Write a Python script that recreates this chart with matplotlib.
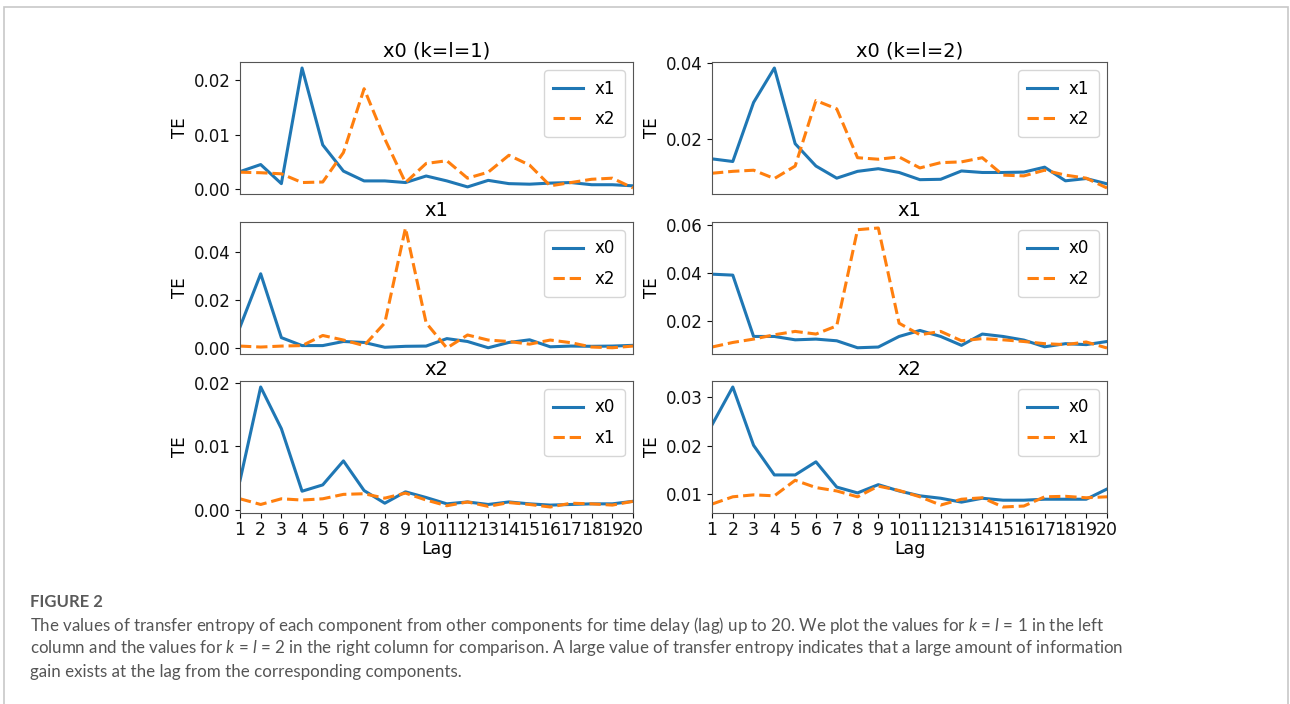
import matplotlib
matplotlib.use("Agg")
import matplotlib.pyplot as plt
from matplotlib.patches import Rectangle
from matplotlib.ticker import MultipleLocator

plt.rcParams['mathtext.fontset'] = 'custom'
plt.rcParams['mathtext.rm'] = 'Lato'
plt.rcParams['mathtext.it'] = 'Lato:italic'

lags = list(range(1, 21))
tick_labels = [str(i) for i in lags]

# k = l = 1 (left column)
x0_from_x1_k1 = [0.0032, 0.0045, 0.0010, 0.0222, 0.0081, 0.0033, 0.0015, 0.0015, 0.0012, 0.0024,
                 0.0015, 0.0004, 0.0016, 0.0010, 0.0009, 0.0011, 0.0012, 0.0008, 0.0008, 0.0006]
x0_from_x2_k1 = [0.0031, 0.0030, 0.0028, 0.0012, 0.0013, 0.0067, 0.0184, 0.0092, 0.0012, 0.0047,
                 0.0052, 0.0020, 0.0031, 0.0062, 0.0044, 0.0006, 0.0012, 0.0018, 0.0020, 0.0002]
x1_from_x0_k1 = [0.0087, 0.0308, 0.0043, 0.0010, 0.0010, 0.0027, 0.0023, 0.0003, 0.0007, 0.0008,
                 0.0039, 0.0027, 0.0001, 0.0023, 0.0034, 0.0005, 0.0008, 0.0007, 0.0008, 0.0011]
x1_from_x2_k1 = [0.0008, 0.0004, 0.0008, 0.0010, 0.0052, 0.0033, 0.0010, 0.0104, 0.0498, 0.0104,
                 0.0000, 0.0054, 0.0033, 0.0027, 0.0016, 0.0033, 0.0022, 0.0004, 0.0001, 0.0008]
x2_from_x0_k1 = [0.0046, 0.0194, 0.0128, 0.0029, 0.0039, 0.0077, 0.0030, 0.0010, 0.0028, 0.0019,
                 0.0009, 0.0012, 0.0008, 0.0012, 0.0009, 0.0007, 0.0008, 0.0009, 0.0009, 0.0013]
x2_from_x1_k1 = [0.0017, 0.0008, 0.0017, 0.0015, 0.0017, 0.0024, 0.0025, 0.0018, 0.0026, 0.0015,
                 0.0006, 0.0012, 0.0005, 0.0011, 0.0008, 0.0004, 0.0010, 0.0009, 0.0007, 0.0013]

# k = l = 2 (right column)
x0_from_x1_k2 = [0.0147, 0.0140, 0.0296, 0.0387, 0.0187, 0.0128, 0.0096, 0.0114, 0.0121, 0.0111,
                 0.0092, 0.0093, 0.0115, 0.0111, 0.0111, 0.0112, 0.0125, 0.0089, 0.0095, 0.0081]
x0_from_x2_k2 = [0.0109, 0.0114, 0.0117, 0.0095, 0.0128, 0.0301, 0.0279, 0.0150, 0.0146, 0.0152,
                 0.0123, 0.0137, 0.0139, 0.0150, 0.0104, 0.0102, 0.0117, 0.0104, 0.0096, 0.0070]
x1_from_x0_k2 = [0.0394, 0.0390, 0.0135, 0.0135, 0.0121, 0.0124, 0.0117, 0.0088, 0.0091, 0.0135,
                 0.0160, 0.0135, 0.0098, 0.0145, 0.0135, 0.0120, 0.0092, 0.0105, 0.0101, 0.0114]
x1_from_x2_k2 = [0.0091, 0.0110, 0.0124, 0.0142, 0.0156, 0.0145, 0.0179, 0.0579, 0.0586, 0.0190,
                 0.0142, 0.0156, 0.0117, 0.0126, 0.0121, 0.0114, 0.0105, 0.0101, 0.0112, 0.0087]
x2_from_x0_k2 = [0.0243, 0.0321, 0.0201, 0.0140, 0.0140, 0.0167, 0.0115, 0.0103, 0.0120, 0.0107,
                 0.0097, 0.0092, 0.0084, 0.0092, 0.0088, 0.0088, 0.0090, 0.0090, 0.0090, 0.0111]
x2_from_x1_k2 = [0.0080, 0.0095, 0.0099, 0.0097, 0.0129, 0.0114, 0.0107, 0.0095, 0.0117, 0.0108,
                 0.0095, 0.0078, 0.0090, 0.0093, 0.0074, 0.0076, 0.0095, 0.0096, 0.0093, 0.0095]

titles = [["x0 (k=l=1)", "x0 (k=l=2)"], ["x1", "x1"], ["x2", "x2"]]
series = [
    [(x0_from_x1_k1, x0_from_x2_k1, "x1", "x2"), (x0_from_x1_k2, x0_from_x2_k2, "x1", "x2")],
    [(x1_from_x0_k1, x1_from_x2_k1, "x0", "x2"), (x1_from_x0_k2, x1_from_x2_k2, "x0", "x2")],
    [(x2_from_x0_k1, x2_from_x1_k1, "x0", "x1"), (x2_from_x0_k2, x2_from_x1_k2, "x0", "x1")],
]
ytick_steps = [[0.01, 0.02], [0.02, 0.02], [0.01, 0.01]]

W, H = 1290, 704
fig = plt.figure(figsize=(W / 100, H / 100), dpi=100)

# outer frame
fig.patches.append(Rectangle((4 / W, -0.05), 1284 / W, 1 - 7 / H + 0.05,
                             transform=fig.transFigure, fill=False,
                             edgecolor='#c8c8c8', linewidth=1.2))

col_left = [240, 712]
col_width = [393, 395]
row_top = [62, 222, 381]
row_h = 132

blue = '#1f77b4'
orange = '#ff7f0e'
for r in range(3):
    for c in range(2):
        ax = fig.add_axes([col_left[c] / W, 1 - (row_top[r] + row_h) / H,
                           col_width[c] / W, row_h / H])
        a, b, la, lb = series[r][c]
        ax.plot(lags, a, color=blue, lw=2.2, label=la)
        ax.plot(lags, b, color=orange, lw=2.2, ls='--', label=lb)
        ax.set_xlim(1, 20)
        ax.yaxis.set_major_locator(MultipleLocator(ytick_steps[r][c]))
        ax.set_title(titles[r][c], fontsize=14, pad=4)
        ax.set_ylabel("TE", fontsize=12, labelpad=3)
        ax.tick_params(axis='y', labelsize=12, colors='#111111')
        for s in ax.spines.values():
            s.set_color('#555555')
        ax.legend(loc='upper right', fontsize=12, handlelength=1.8,
                  handletextpad=0.7, labelspacing=0.75, borderpad=0.55)
        if r == 2:
            ax.set_xticks(lags)
            ax.set_xticklabels(tick_labels)
            ax.tick_params(axis='x', labelsize=12.5, pad=2, colors='#111111')
            ax.set_xlabel("Lag", fontsize=12.5, labelpad=1)
        else:
            ax.set_xticks([])

cap_color = '#555555'
fig.text(30 / W, 1 - 602 / H, "FIGURE 2", fontsize=12, family='Lato', weight='bold',
         color='#5a5a5a', va='center', ha='left')
caption_lines = [
    r"The values of transfer entropy of each component from other components for time delay (lag) up to 20. We plot the values for $k$ = $l$ = 1 in the left",
    r"column and the values for $k$ = $l$ = 2 in the right column for comparison. A large value of transfer entropy indicates that a large amount of information",
    "gain exists at the lag from the corresponding components.",
]
for i, line in enumerate(caption_lines):
    fig.text(30 / W, 1 - (625 + 23.5 * i) / H, line, fontsize=12.2, family='Lato',
             color=cap_color, va='center', ha='left')

fig.savefig("out.png", dpi=100)
